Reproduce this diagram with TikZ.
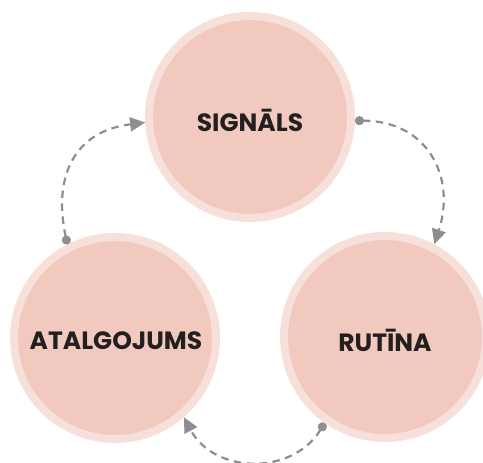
\documentclass[tikz,border=0pt]{standalone}
\usepackage{fontspec}
\usepackage{tikz}
\usetikzlibrary{arrows.meta, calc, positioning}
\newfontfamily\labelfont{Poppins}

\definecolor{ringpink}{HTML}{F8E0DA}
\definecolor{fillpink}{HTML}{F2C9BF}
\definecolor{linegray}{HTML}{8E8E90}
\definecolor{textdark}{HTML}{231F20}

\tikzset{
	bubble/.style={circle, draw=ringpink, line width=8pt, fill=fillpink,
		minimum size=202pt, inner sep=0pt},
	bubbletext/.style={font=\labelfont\bfseries\fontsize{25}{29}\selectfont,
		text=textdark, inner sep=0pt},
	cycle/.style={linegray, line width=2.2pt, dash pattern=on 7.5pt off 5.5pt,
		{Circle[length=9pt]}-{Triangle[length=15pt,width=14pt]}},
}

\begin{document}
\begin{tikzpicture}[x=1pt,y=1pt]
	\useasboundingbox (0,0) rectangle (483,463);
	
	\coordinate (Csig)  at (250,346);
	\coordinate (Catal) at (115,125);
	\coordinate (Crut)  at (385,126);
	
	\node[bubble] (sig)  at (Csig)  {};
	\node[bubble] (atal) at (Catal) {};
	\node[bubble] (rut)  at (Crut)  {};
	
	\node[bubbletext] (sigtext)  at ($(Csig)+(0,-3)$)  {SIGNĀLS};
	\node[bubbletext] (ataltext) at ($(Catal)+(1,-3)$) {ATALGOJUMS};
	\node[bubbletext] (ruttext)  at ($(Crut)+(0,-3)$)  {RUTĪNA};
	
	\draw[cycle] (atal.117) to[out=102,in=187,looseness=1.25] (sig.183);
	\draw[cycle] (sig.-2) to[out=0,in=72,looseness=1.25] (rut.62);
	\draw[cycle] (rut.235) to[out=238,in=-62,looseness=1.15] (atal.311);
\end{tikzpicture}
\end{document}
